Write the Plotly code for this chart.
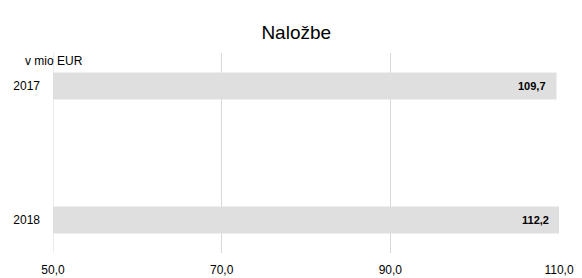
import plotly.graph_objects as go

categories = ["2017", "2018"]
values = [109.7, 112.2]
x_ticks = [50, 70, 90, 110]
x_min, x_max = 50, 110

FONT = "Liberation Sans, Arial, sans-serif"

fig = go.Figure()
fig.add_trace(go.Bar(
    y=categories, x=values, base=0, orientation="h",
    marker=dict(color="#dfdfdf", line=dict(width=0)),
    width=0.2, hoverinfo="skip",
))

for i, v in enumerate(values):
    fig.add_annotation(
        x=min(v, x_max), y=i, xref="x", yref="y",
        text="<b>" + f"{v:.1f}".replace(".", ",") + "</b>",
        showarrow=False, xanchor="right", xshift=-8,
        font=dict(family=FONT, size=11, color="#000"),
    )

fig.add_annotation(
    x=-0.06, y=1.0, xref="paper", yref="paper", text="v mio EUR",
    showarrow=False, xanchor="left", yanchor="middle", yshift=-8,
    font=dict(family=FONT, size=12, color="#000"),
)

fig.add_shape(type="line", xref="x", yref="paper", x0=x_min, x1=x_min, y0=0, y1=1,
              line=dict(color="#d9d9d9", width=1), layer="below")

fig.update_layout(
    width=582, height=278,
    margin=dict(l=53, r=23, t=53, b=25, autoexpand=False),
    paper_bgcolor="white", plot_bgcolor="white",
    separators=",.",
    showlegend=False,
    title=dict(text="Naložbe", x=0.509, xanchor="center", y=0.885, yanchor="middle",
               yref="container",
               font=dict(family=FONT, size=19, color="#000")),
    font=dict(family=FONT, size=12, color="#000"),
    xaxis=dict(range=[x_min, x_max], tickvals=x_ticks, tickformat=".1f",
               showgrid=True, gridcolor="#d9d9d9", gridwidth=1,
               zeroline=False, showline=False, ticks="", ticklen=0,
               ticklabelstandoff=8,
               automargin=False, tickfont=dict(size=12)),
    yaxis=dict(type="category", range=[1.246, -0.246], showgrid=False, zeroline=False,
               showline=False, ticks="", ticklabelstandoff=12, automargin=False,
               tickfont=dict(size=12)),
)

fig.write_html("out.html", config={"displayModeBar": False},
               post_script="document.body.style.margin='0';")
